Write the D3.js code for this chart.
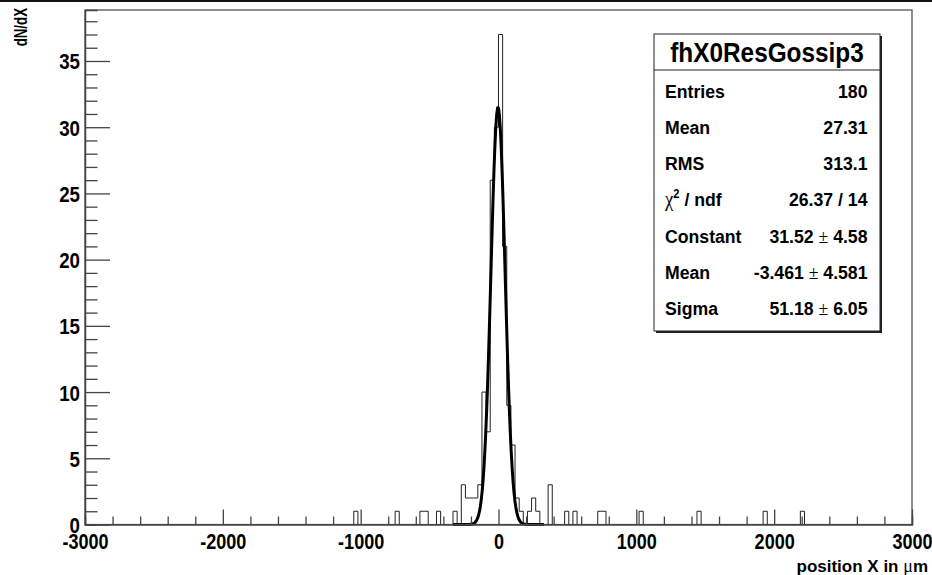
<!DOCTYPE html>
<html>
<head>
<meta charset="utf-8">
<script src="https://cdn.jsdelivr.net/npm/d3@7"></script>
<style>
  html, body { margin: 0; padding: 0; background: #fff; }
  svg { display: block; }
  text { font-family: "Liberation Sans", Arial, Helvetica, sans-serif; font-weight: bold; fill: #000; }
  .sym { font-family: "Liberation Serif", "DejaVu Serif", serif; font-weight: normal; }
</style>
</head>
<body>
<svg id="chart" width="932" height="575"></svg>
<script>
// Histogram fhX0ResGossip3: 200 bins of 30 um from -3000 to 3000.
const xMin = -3000, xMax = 3000, binWidth = 30;
// Lower edges of the non-empty bins and their contents
const binLow   = [-1050, -750, -570, -540, -450, -330, -270, -240, -210, -180, -150, -120, -90, -60, -30, 0, 30, 60, 90, 120, 150, 210, 240, 270, 360, 480, 540, 720, 750, 1020, 1440, 1920, 2190];
const binCount = [1, 1, 1, 1, 1, 1, 3, 2, 2, 2, 3, 10, 7, 26, 30, 37, 21, 9, 6, 2, 1, 1, 2, 1, 3, 1, 1, 1, 1, 1, 1, 1, 1];

// Gaussian fit results
const fitConstant = 31.52, fitMean = -3.461, fitSigma = 51.18;
const fitRange = [-330, 330];

// Statistics box
const statsTitle = "fhX0ResGossip3";
const statsLabels = ["Entries", "Mean", "RMS", "chi2", "Constant", "Mean", "Sigma"];
const statsValues = ["180", "27.31", "313.1", "26.37 / 14", "31.52|4.58", "-3.461|4.581", "51.18|6.05"];

const xTickValues = [-3000, -2000, -1000, 0, 1000, 2000, 3000];
const yTickValues = [0, 5, 10, 15, 20, 25, 30, 35];
const xTitle = "position X in ";
const yTitle = "dN/dX";

const svg = d3.select("#chart");
const frame = { left: 85, right: 912, top: 10, bottom: 524.5 };
const yMax = 1.05 * d3.max(binCount);

const x = d3.scaleLinear().domain([xMin, xMax]).range([frame.left, frame.right]);
const y = d3.scaleLinear().domain([0, yMax]).range([frame.bottom, frame.top]);

// condensed bold text placed at (px, py)
function label(parent, px, py, size, sx, anchor) {
  return parent.append("text")
    .attr("transform", `translate(${px},${py}) scale(${sx},1)`)
    .attr("font-size", size).attr("text-anchor", anchor || "start");
}

// canvas top border
svg.append("line").attr("x1", 0).attr("x2", 932).attr("y1", 1).attr("y2", 1)
  .attr("stroke", "#111").attr("stroke-width", 2);

// full bin contents
const nBins = Math.round((xMax - xMin) / binWidth);
const contents = new Array(nBins).fill(0);
binLow.forEach((lo, i) => { contents[Math.round((lo - xMin) / binWidth)] = binCount[i]; });

// histogram outline
const pts = [[xMin, 0]];
contents.forEach((c, k) => {
  const lo = xMin + k * binWidth;
  pts.push([lo, c], [lo + binWidth, c]);
});
pts.push([xMax, 0]);
svg.append("path")
  .attr("d", d3.line().x(d => x(d[0])).y(d => y(d[1]))(pts))
  .attr("fill", "none").attr("stroke", "#222").attr("stroke-width", 1);

// fit curve
const fitPts = d3.range(0, 101).map(i => {
  const xv = fitRange[0] + (fitRange[1] - fitRange[0]) * i / 100;
  return [xv, fitConstant * Math.exp(-0.5 * Math.pow((xv - fitMean) / fitSigma, 2))];
});
svg.append("path")
  .attr("d", d3.line().x(d => x(d[0])).y(d => y(d[1]))(fitPts))
  .attr("fill", "none").attr("stroke", "#000").attr("stroke-width", 3)
  .attr("stroke-linejoin", "round");

// frame
svg.append("rect")
  .attr("x", frame.left).attr("y", frame.top)
  .attr("width", frame.right - frame.left).attr("height", frame.bottom - frame.top)
  .attr("fill", "none").attr("stroke", "#444").attr("stroke-width", 1.2);

// x axis: ticks pointing up into the frame
const xAxis = d3.axisBottom(x).tickValues(d3.range(xMin, xMax + 1, 200))
  .tickSize(-8).tickFormat("");
const gx = svg.append("g").attr("transform", `translate(0,${frame.bottom})`).call(xAxis);
gx.select(".domain").attr("stroke", "#444").attr("stroke-width", 1.5);
gx.selectAll(".tick line").attr("stroke", "#444").attr("stroke-width", 1.3)
  .attr("y2", d => xTickValues.includes(d) ? -15 : -8);
gx.selectAll(".tick").filter(d => xTickValues.includes(d)).append("text")
  .attr("transform", "translate(0,24) scale(0.82,1)")
  .attr("text-anchor", "middle").attr("font-size", 22)
  .text(d => d3.format("d")(d).replace("\u2212", "-"));

// y axis: ticks pointing right into the frame
const yAxis = d3.axisLeft(y).tickValues(d3.range(0, 39, 1)).tickSize(-12.5).tickFormat("");
const gy = svg.append("g").attr("transform", `translate(${frame.left},0)`).call(yAxis);
gy.select(".domain").attr("stroke", "#444").attr("stroke-width", 1.5);
gy.selectAll(".tick line").attr("stroke", "#444").attr("stroke-width", 1.3)
  .attr("x2", d => yTickValues.includes(d) ? 25 : 12.5);
gy.selectAll(".tick").filter(d => yTickValues.includes(d)).append("text")
  .attr("transform", "translate(-5,8) scale(0.85,1)")
  .attr("text-anchor", "end").attr("font-size", 22)
  .text(d => d);

// axis titles
const xt = label(svg, 928, 572, 17, 1, "end").text(xTitle);
xt.append("tspan").attr("class", "sym").attr("font-size", 18).text("\u03BC");
xt.append("tspan").text("m");
svg.append("text").attr("transform", "translate(27,8) rotate(-90) scale(0.7,1)")
  .attr("text-anchor", "end").attr("font-size", 19).text(yTitle);

// statistics box with shadow
const box = { x: 654, y: 34, w: 226, h: 297 };
svg.append("rect").attr("x", box.x + 2).attr("y", box.y + 2).attr("width", box.w).attr("height", box.h)
  .attr("fill", "#222");
svg.append("rect").attr("x", box.x).attr("y", box.y).attr("width", box.w).attr("height", box.h)
  .attr("fill", "#fff").attr("stroke", "#222").attr("stroke-width", 1);
svg.append("line").attr("x1", box.x).attr("x2", box.x + box.w).attr("y1", 70).attr("y2", 70)
  .attr("stroke", "#222").attr("stroke-width", 1);
label(svg, box.x + box.w / 2, 62, 28, 0.87, "middle").text(statsTitle);

const rowY = d3.scaleLinear().domain([0, statsLabels.length - 1]).range([97.5, 315]);
statsLabels.forEach((lab, i) => {
  const t = label(svg, 665, rowY(i), 19, 0.93, "start");
  if (lab === "chi2") {
    t.append("tspan").attr("class", "sym").attr("font-size", 20).text("\u03C7");
    t.append("tspan").attr("font-size", 12).attr("dy", -8).text("2");
    t.append("tspan").attr("dy", 8).text(" / ndf");
  } else {
    t.text(lab);
  }
  const v = label(svg, 867.5, rowY(i), 19, 0.93, "end");
  const parts = statsValues[i].split("|");
  if (parts.length === 2) {
    v.append("tspan").text(parts[0] + " ");
    v.append("tspan").attr("class", "sym").text("\u00B1");
    v.append("tspan").text(" " + parts[1]);
  } else {
    v.text(parts[0]);
  }
});
</script>
</body>
</html>
